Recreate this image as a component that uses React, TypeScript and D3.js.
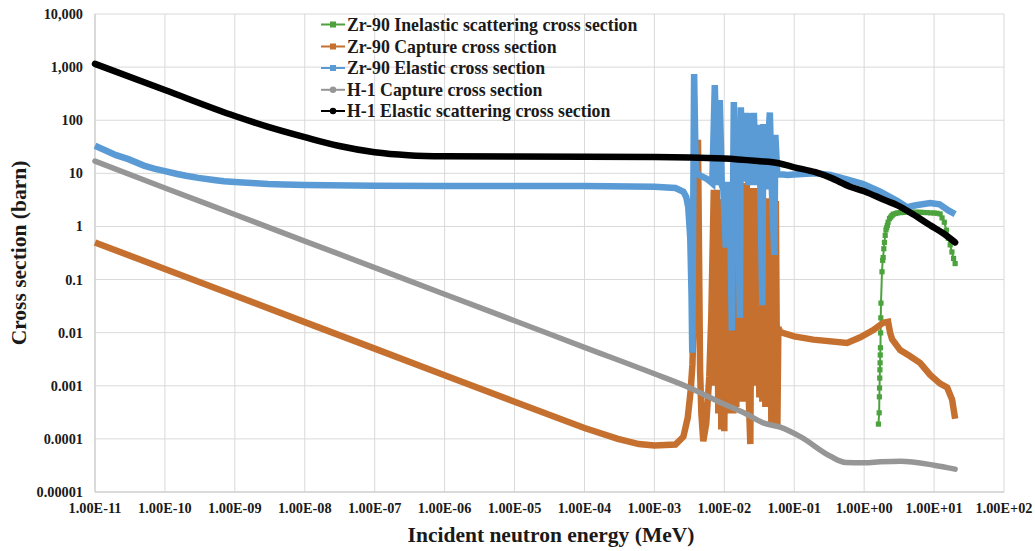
import React from "react";
import * as d3 from "d3";

// Energy axis (MeV) and cross-section axis (barn) ticks
const energyTicks = [1e-11, 1e-10, 1e-9, 1e-8, 1e-7, 1e-6, 1e-5, 1e-4, 1e-3, 1e-2, 1e-1, 1e0, 1e1, 1e2];
const energyLabels = ["1.00E-11", "1.00E-10", "1.00E-09", "1.00E-08", "1.00E-07", "1.00E-06", "1.00E-05", "1.00E-04", "1.00E-03", "1.00E-02", "1.00E-01", "1.00E+00", "1.00E+01", "1.00E+02"];
const sigmaTicks = [1e4, 1e3, 1e2, 1e1, 1, 1e-1, 1e-2, 1e-3, 1e-4, 1e-5];
const sigmaLabels = ["10,000", "1,000", "100", "10", "1", "0.1", "0.01", "0.001", "0.0001", "0.00001"];

// [energy MeV, cross section barn]
const zr90Inelastic: [number, number][] = [
  [1.6, 1.9e-4], [1.64, 3.1e-4], [1.65, 6.2e-4], [1.66, 9.1e-4], [1.67, 1.4e-3], [1.68, 2.0e-3],
  [1.69, 2.7e-3], [1.7, 3.8e-3], [1.71, 5.2e-3], [1.72, 9.9e-3], [1.73, 0.019], [1.74, 0.036],
  [1.8, 0.14], [1.84, 0.23], [1.87, 0.26], [1.91, 0.38], [1.95, 0.5], [2.0, 0.68], [2.05, 0.86],
  [2.1, 0.95], [2.15, 1.05], [2.2, 1.2], [2.3, 1.4], [2.4, 1.5], [2.5, 1.6], [2.6, 1.7], [2.8, 1.75],
  [3.0, 1.8], [3.3, 1.82], [3.6, 1.84], [4.0, 1.85], [4.5, 1.86], [5.0, 1.86], [5.5, 1.85], [6.0, 1.85],
  [6.5, 1.84], [7.0, 1.83], [8.0, 1.82], [9.0, 1.8], [10, 1.79], [11, 1.77], [12.2, 1.72], [13, 1.45],
  [14, 1.2], [15, 0.85], [16, 0.6], [17, 0.45], [18, 0.33], [19, 0.25], [20, 0.2],
];

const zr90Capture: [number, number][] = [
  [1e-11, 0.5], [1e-10, 0.158], [1e-9, 0.05], [1e-8, 0.0158], [1e-7, 0.005], [1e-6, 0.00158],
  [1e-5, 0.0005], [1e-4, 0.00016], [3e-4, 1e-4], [6e-4, 8e-5], [1e-3, 7.5e-5], [2e-3, 7.8e-5],
  [2.6e-3, 1.1e-4], [3.0e-3, 2.5e-4], [3.3e-3, 8e-4], [3.5e-3, 2.5e-3], [3.7e-3, 0.03], [3.85e-3, 1],
  [4.2e-3, 43], [4.35e-3, 0.3], [4.5e-3, 2e-3], [4.7e-3, 3e-4], [5.006e-3, 9e-5], [5.526e-3, 2e-4],
  [6.1e-3, 1.5e-3], [6.516e-3, 0.02], [7.076e-3, 4.9], [7.434e-3, 1e-3], [7.811e-3, 4.9],
  [8.206e-3, 3e-4], [8.622e-3, 3.3], [9.059e-3, 1.5e-4], [9.518e-3, 2.9], [1.0e-2, 1.4e-4],
  [1.0507e-2, 2.7], [1.1039e-2, 3e-4], [1.16e-2, 4], [1.2186e-2, 3e-4], [1.2803e-2, 4],
  [1.3452e-2, 3e-4], [1.4134e-2, 4], [1.485e-2, 4e-4], [1.5603e-2, 4], [1.6393e-2, 5e-4],
  [1.7225e-2, 4], [1.8097e-2, 5e-4], [1.9013e-2, 6.6], [1.9977e-2, 1e-3], [2.099e-2, 6.6],
  [2.2053e-2, 1e-3], [2.3556e-2, 8e-5], [2.4751e-2, 5.3], [2.6003e-2, 1e-3], [2.7322e-2, 5.3],
  [2.8705e-2, 1e-3], [3.016e-2, 5], [3.1688e-2, 6e-4], [3.3293e-2, 3], [3.4981e-2, 5e-4],
  [3.6754e-2, 3], [3.8616e-2, 4e-4], [4.0574e-2, 3.4], [4.2629e-2, 5e-4], [4.479e-2, 3.4],
  [4.7058e-2, 2e-4], [4.9444e-2, 3], [5.1948e-2, 1.6e-4], [5.4581e-2, 3], [5.7346e-2, 1.6e-4],
  [5.9268e-2, 0.0125], [0.063, 0.0102], [0.1, 0.0085], [0.187, 0.0074], [0.57, 0.0064], [0.88, 0.0082],
  [1.35, 0.0112], [1.87, 0.0154], [2.2, 0.016], [2.35, 0.01], [2.51, 0.0075], [3.27, 0.0047],
  [4.55, 0.0036], [6.3, 0.0027], [8.8, 0.0016], [12.2, 0.0011], [15.4, 0.00093], [18.1, 0.00055],
  [20, 0.00024],
];

const zr90Elastic: [number, number][] = [
  [1e-11, 33], [1.5e-11, 26], [2e-11, 22], [3e-11, 18.5], [5e-11, 14], [7e-11, 12.3], [1e-10, 11],
  [1.5e-10, 9.7], [2e-10, 9], [3e-10, 8.2], [5e-10, 7.5], [7e-10, 7.1], [1e-9, 6.9], [2e-9, 6.5],
  [3e-9, 6.3], [5e-9, 6.15], [1e-8, 6.0], [1e-7, 5.85], [1e-6, 5.8], [1e-5, 5.8], [1e-4, 5.75],
  [1e-3, 5.6], [2e-3, 5.3], [2.6e-3, 4.5], [2.85e-3, 3.6], [3.05e-3, 2.3], [3.26e-3, 0.6],
  [3.4e-3, 0.05], [3.48e-3, 0.0042], [3.7e-3, 740], [3.9e-3, 12], [4.1e-3, 10], [4.54e-3, 9],
  [5.53e-3, 8], [6.31e-3, 7], [6.73e-3, 6.5], [7.31e-3, 460], [7.94e-3, 6], [8.62e-3, 240],
  [9.21e-3, 6], [9.68e-3, 5], [1.051e-2, 0.4], [1.122e-2, 6], [1.199e-2, 6], [1.28e-2, 0.011],
  [1.368e-2, 220], [1.461e-2, 6], [1.56e-2, 6], [1.667e-2, 0.019], [1.723e-2, 175], [1.84e-2, 7],
  [2.065e-2, 137], [2.205e-2, 6], [2.356e-2, 137], [2.475e-2, 6], [2.644e-2, 137], [2.871e-2, 6],
  [3.117e-2, 82], [3.275e-2, 6], [3.498e-2, 0.033], [3.615e-2, 85], [3.862e-2, 5], [4.479e-2, 140],
  [4.784e-2, 5], [5.195e-2, 0.29], [5.369e-2, 53], [5.735e-2, 9.5],
  [0.07, 9.5], [0.08, 9.3], [0.1, 9.5], [0.15, 9.8], [0.2, 10], [0.33, 9.3],
  [0.6, 7.5], [0.97, 6.3], [1.7, 4.5], [3.0, 3.0], [4.1, 2.3], [5.5, 2.5], [8.8, 2.75], [12, 2.6],
  [16, 2.0], [20, 1.7],
];

const h1Capture: [number, number][] = [
  [1e-11, 17], [1e-10, 5.3], [1e-9, 1.68], [1e-8, 0.53], [1e-7, 0.168], [1e-6, 0.053],
  [1e-5, 0.0168], [1e-4, 0.0053], [1e-3, 0.00168], [3e-3, 0.00095], [1e-2, 0.00045], [2e-2, 0.0003],
  [0.036, 0.0002], [0.063, 0.000166], [0.122, 0.00011], [0.33, 4.7e-5], [0.54, 3.6e-5], [1.0, 3.55e-5],
  [1.7, 3.7e-5], [3.3, 3.8e-5], [10, 3.2e-5], [20, 2.7e-5],
];

const h1Elastic: [number, number][] = [
  [1e-11, 1150], [1e-10, 370], [1e-9, 120], [3e-9, 75], [1e-8, 48], [3e-8, 33], [1e-7, 25],
  [3e-7, 22], [1e-6, 21], [1e-5, 20.7], [1e-4, 20.5], [1e-3, 20.4], [1e-2, 19], [3e-2, 17],
  [6e-2, 15.5], [0.1, 13], [0.2, 10.5], [0.33, 8.3], [0.63, 5.6], [1, 4.6], [2, 3.1], [3, 2.5],
  [5, 1.7], [8.8, 1.05], [14, 0.72], [20, 0.5],
];

const seriesNames = [
  "Zr-90 Inelastic scattering cross section",
  "Zr-90 Capture cross section",
  "Zr-90 Elastic cross section",
  "H-1 Capture cross section",
  "H-1 Elastic scattering cross section",
];
const seriesColors = ["#4ca33e", "#c5702f", "#5b9bd5", "#969696", "#000000"];

const W = 1035;
const H = 551;
const font = "'Liberation Serif', 'Times New Roman', serif";

export default function App() {
  const x = d3.scaleLog().domain([1e-11, 1e2]).range([95, 1004]);
  const y = d3.scaleLog().domain([1e-5, 1e4]).range([492, 14]);
  const line = d3
    .line<[number, number]>()
    .x((d) => x(d[0]))
    .y((d) => y(d[1]));
  const smooth = d3
    .line<[number, number]>()
    .x((d) => x(d[0]))
    .y((d) => y(d[1]))
    .curve(d3.curveMonotoneX);

  const legendX = 321;
  const legendY = [24.5, 46.5, 68, 89.8, 111];

  return (
    <svg
      width={W}
      height={H}
      style={{ position: "absolute", left: 0, top: 0, background: "#fff" }}
      fontFamily={font}
    >
      <rect width={W} height={H} fill="#fff" />
      {/* grid */}
      {energyTicks.map((t) => (
        <line key={"gx" + t} x1={x(t)} x2={x(t)} y1={14} y2={492} stroke="#d9d9d9" strokeWidth={1} />
      ))}
      {sigmaTicks.map((t) => (
        <line key={"gy" + t} x1={95} x2={1004} y1={y(t)} y2={y(t)} stroke="#d9d9d9" strokeWidth={1} />
      ))}
      <line x1={95} x2={95} y1={14} y2={492} stroke="#c8c8c8" />
      <line x1={95} x2={1004} y1={492} y2={492} stroke="#c8c8c8" />

      {/* tick labels */}
      {sigmaTicks.map((t, i) => (
        <text key={"ly" + t} x={83} y={y(t) + 5} textAnchor="end" fontSize={14.3} fontWeight="bold" fill="#1a1a1a">
          {sigmaLabels[i]}
        </text>
      ))}
      {energyTicks.map((t, i) => (
        <text key={"lx" + t} x={x(t)} y={513} textAnchor="middle" fontSize={14.3} fontWeight="bold" fill="#1a1a1a">
          {energyLabels[i]}
        </text>
      ))}

      {/* axis titles */}
      <text x={551} y={542} textAnchor="middle" fontSize={21.5} fontWeight="bold" fill="#1a1a1a">
        Incident neutron energy (MeV)
      </text>
      <text
        transform={`translate(26,253) rotate(-90)`}
        textAnchor="middle"
        fontSize={21.5}
        fontWeight="bold"
        fill="#1a1a1a"
      >
        Cross section (barn)
      </text>

      {/* series */}
      <path d={line(zr90Inelastic) || ""} fill="none" stroke={seriesColors[0]} strokeWidth={2} />
      {zr90Inelastic.map((d, i) => (
        <rect key={"gi" + i} x={x(d[0]) - 2.6} y={y(d[1]) - 2.6} width={5.2} height={5.2} fill={seriesColors[0]} />
      ))}
      <path d={line(zr90Capture) || ""} fill="none" stroke={seriesColors[1]} strokeWidth={6.5} />
      <path d={line(zr90Elastic) || ""} fill="none" stroke={seriesColors[2]} strokeWidth={6.5} />
      <path d={smooth(h1Capture) || ""} fill="none" stroke={seriesColors[3]} strokeWidth={5.5} strokeLinecap="round" />
      <path d={smooth(h1Elastic) || ""} fill="none" stroke={seriesColors[4]} strokeWidth={6.5} strokeLinecap="round" />

      {/* legend */}
      {seriesNames.map((name, i) => (
        <g key={name}>
          <line x1={legendX} x2={legendX + 24} y1={legendY[i]} y2={legendY[i]} stroke={seriesColors[i]} strokeWidth={2} />
          {i < 3 ? (
            <rect x={legendX + 9} y={legendY[i] - 3} width={6} height={6} fill={seriesColors[i]} />
          ) : (
            <circle cx={legendX + 12} cy={legendY[i]} r={3.2} fill={seriesColors[i]} />
          )}
          <text x={legendX + 26} y={legendY[i] + 6} fontSize={17.8} fontWeight="bold" fill="#1a1a1a">
            {name}
          </text>
        </g>
      ))}
    </svg>
  );
}
